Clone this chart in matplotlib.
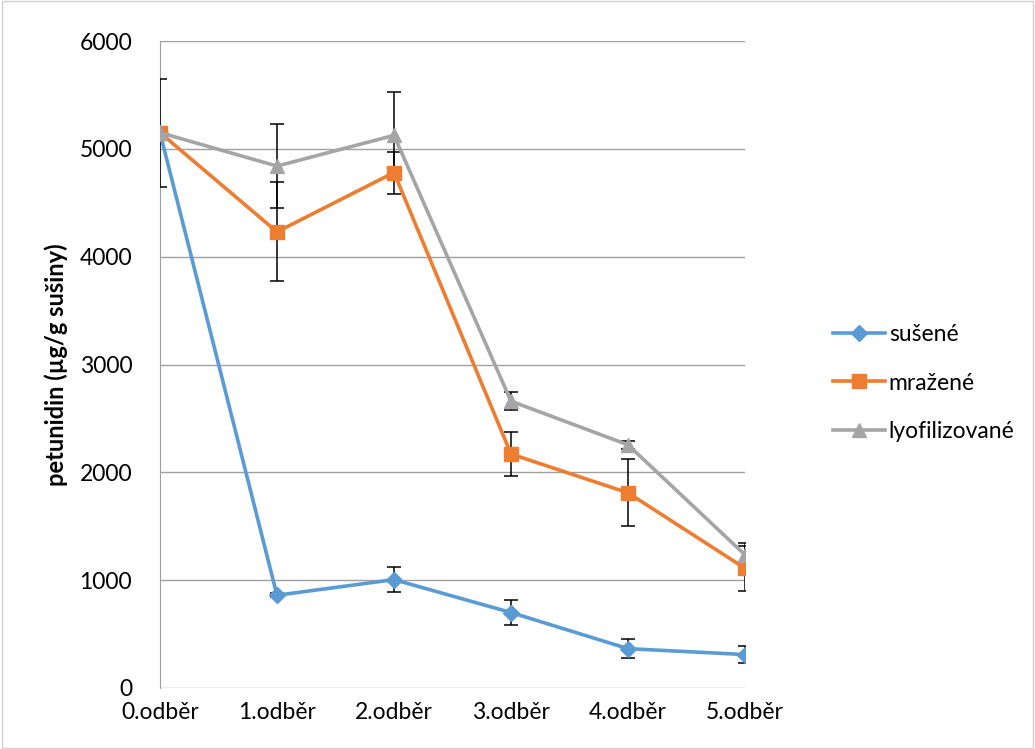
import numpy as np
import matplotlib
matplotlib.use("Agg")
import matplotlib.pyplot as plt
from matplotlib.patches import Rectangle
from matplotlib.lines import Line2D

plt.rcParams['font.family'] = ['Lato', 'DejaVu Sans']

labels = ["0.odběr", "1.odběr", "2.odběr", "3.odběr", "4.odběr", "5.odběr"]

suseny = [5150, 860, 1005, 700, 365, 310]
suseny_err = [500, 20, 115, 115, 85, 80]
mrazeny = [5150, 4230, 4780, 2170, 1810, 1110]
mrazeny_err = [0, 460, 195, 205, 310, 210]
lyo = [5150, 4840, 5125, 2660, 2255, 1235]
lyo_err = [0, 390, 400, 85, 40, 110]

fig = plt.figure(figsize=(10.35, 7.49), dpi=100)
ax = fig.add_axes([160/1035, 1 - 688/749, 585/1035, 647/749])

x = np.arange(len(labels))
handles = []

def plot_series(vals, err, label, color, marker, ms):
    ax.errorbar(x, vals, yerr=err, color=color, lw=2.6, marker=marker, ms=ms,
                mfc=color, mec=color, ecolor="black", elinewidth=1.1,
                capsize=5, capthick=1.1, zorder=3)
    handles.append(Line2D([], [], color=color, lw=2.6, marker=marker, ms=ms,
                          mfc=color, mec=color, label=label))

plot_series(suseny, suseny_err, "sušené", "#5B9BD5", "D", 8.5)
plot_series(mrazeny, mrazeny_err, "mražené", "#ED7D31", "s", 10)
plot_series(lyo, lyo_err, "lyofilizované", "#A5A5A5", "^", 10.5)

ax.set_xlim(0, 5)
ax.set_ylim(0, 6000)
ax.set_yticks(range(0, 6001, 1000))
ax.set_xticks(x)
ax.set_xticklabels(labels)
ax.tick_params(axis="both", length=0, labelsize=16.5)
ax.tick_params(axis="y", pad=20)
ax.tick_params(axis="x", pad=10)
ax.yaxis.grid(True, color="#A0A0A0", lw=1.0)
ax.set_axisbelow(True)
for s in ["top", "right", "bottom"]:
    ax.spines[s].set_visible(False)
ax.spines["left"].set_color("#A0A0A0")
ax.set_ylabel("petunidin (µg/g sušiny)", fontsize=17, fontweight="bold", labelpad=8)

fig.legend(handles=handles, loc="center left", bbox_to_anchor=(812/1035, 1 - 383/749),
           frameon=False, fontsize=16.5, handlelength=2.3, labelspacing=1.2,
           handletextpad=0.15)

fig.patches.append(Rectangle((0.002, 0.002), 0.996, 0.996, transform=fig.transFigure,
                             fill=False, edgecolor="#D0D0D0", lw=1))

fig.savefig("out.png", dpi=100)
